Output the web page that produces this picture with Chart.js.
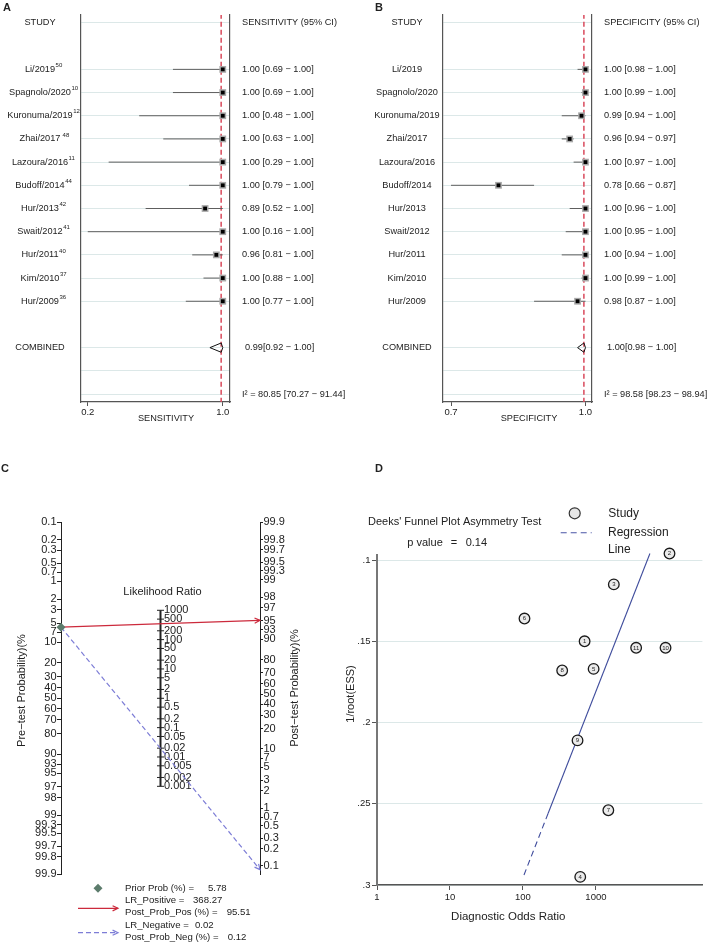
<!DOCTYPE html>
<html>
<head>
<meta charset="utf-8">
<script src="https://cdn.jsdelivr.net/npm/chart.js@4.4.1/dist/chart.umd.min.js"></script>
<style>
  body { margin: 0; background: #fff; }
  #wrap { position: relative; width: 709px; height: 944px; overflow: hidden; background: #fff; }
  canvas { position: absolute; }
</style>
</head>
<body>
<div id="wrap">
  <canvas id="chartA" width="354" height="470" style="left:0px;top:0px"></canvas>
  <canvas id="chartB" width="355" height="470" style="left:354px;top:0px"></canvas>
  <canvas id="chartC" width="340" height="484" style="left:0px;top:460px"></canvas>
  <canvas id="chartD" width="369" height="484" style="left:340px;top:460px"></canvas>
</div>
<script>
const FONT = '"Liberation Sans", Arial, Helvetica, sans-serif';
const INK = '#222';
const GRID = '#dce8e8';
const FRAME = '#555';
const RED = '#cc2a3c';
const BLUE = '#7d7dd6';
const FS = 9.2; // forest text size

// ---------- A / B : forest plots ----------
const studiesA = ['Li/2019', 'Spagnolo/2020', 'Kuronuma/2019', 'Zhai/2017', 'Lazoura/2016', 'Budoff/2014',
  'Hur/2013', 'Swait/2012', 'Hur/2011', 'Kim/2010', 'Hur/2009'];
const refsA = ['50', '10', '12', ' 48', '11', '44', '42', '41', '40', '37', '36'];
const sens = [1.00, 1.00, 1.00, 1.00, 1.00, 1.00, 0.89, 1.00, 0.96, 1.00, 1.00];
const sensLo = [0.69, 0.69, 0.48, 0.63, 0.29, 0.79, 0.52, 0.16, 0.81, 0.88, 0.77];
const sensHi = [1.00, 1.00, 1.00, 1.00, 1.00, 1.00, 1.00, 1.00, 1.00, 1.00, 1.00];
const sensPooled = [0.99, 0.92, 1.00];
const sensI2 = [80.85, 70.27, 91.44];
const sensTicks = [0.16, 1.0];

const spec = [1.00, 1.00, 0.99, 0.96, 1.00, 0.78, 1.00, 1.00, 1.00, 1.00, 0.98];
const specLo = [0.98, 0.99, 0.94, 0.94, 0.97, 0.66, 0.96, 0.95, 0.94, 0.99, 0.87];
const specHi = [1.00, 1.00, 1.00, 0.97, 1.00, 0.87, 1.00, 1.00, 1.00, 1.00, 1.00];
const specPooled = [0.996, 0.98, 1.00];
const specI2 = [98.58, 98.23, 98.94];
const specTicks = [0.66, 1.0];

// rows: header 0, studies 2..12, combined 14, I2 16
const studyRows = studiesA.map((s, i) => i + 2);
const POOLED_ROW = 14;
const I2_ROW = 16;
const gridRows = [0].concat(studyRows, [POOLED_ROW, 15, I2_ROW]);

// ---------- C : Fagan nomogram ----------
const preTicks = [0.1, 0.2, 0.3, 0.5, 0.7, 1, 2, 3, 5, 7, 10, 20, 30, 40, 50, 60, 70, 80, 90, 93, 95, 97, 98, 99, 99.3, 99.5, 99.7, 99.8, 99.9];
const postTicks = [99.9, 99.8, 99.7, 99.5, 99.3, 99, 98, 97, 95, 93, 90, 80, 70, 60, 50, 40, 30, 20, 10, 7, 5, 3, 2, 1, 0.7, 0.5, 0.3, 0.2, 0.1];
const lrTicks = [1000, 500, 200, 100, 50, 20, 10, 5, 2, 1, 0.5, 0.2, 0.1, 0.05, 0.02, 0.01, 0.005, 0.002, 0.001];
const faganNames = ['Prior Prob (%) =', 'LR_Positive =', 'Post_Prob_Pos (%) =', 'LR_Negative =', 'Post_Prob_Neg (%) ='];
const faganValues = [5.78, 368.27, 95.51, 0.02, 0.12];

// ---------- D : Deeks funnel plot ----------
const studyIds = [1, 2, 3, 4, 5, 6, 7, 8, 9, 10, 11];
const dor = [700, 10200, 1760, 610, 930, 105, 1480, 345, 560, 9000, 3560];
const invRootEss = [0.150, 0.096, 0.115, 0.295, 0.167, 0.136, 0.254, 0.168, 0.211, 0.154, 0.154];
const regDor = [5500, 221, 103];
const regEss = [0.096, 0.256, 0.294];
const dorTicks = [1, 10, 100, 1000];
const essTicks = [0.1, 0.15, 0.2, 0.25, 0.3];
const deeksP = 0.14;

const px = (s) => `${s}px ${FONT}`;
const f2 = (v) => v.toFixed(2);

function forest(canvasId, o) {
  // CI segments, broken by null points
  const ci = [];
  o.lo.forEach((lo, i) => {
    ci.push({ x: lo, y: studyRows[i] }, { x: o.hi[i], y: studyRows[i] }, { x: null, y: null });
  });
  const pts = o.est.map((v, i) => ({ x: v, y: studyRows[i] }));
  const [pe, pl, ph] = o.pooled;
  const dh = 0.2;
  const diamond = [
    { x: pl, y: POOLED_ROW }, { x: pe, y: POOLED_ROW - dh }, { x: ph, y: POOLED_ROW },
    { x: pe, y: POOLED_ROW + dh }, { x: pl, y: POOLED_ROW },
  ];
  const refLine = [{ x: pe, y: -0.4 }, { x: pe, y: 16.4 }];

  const forestText = {
    id: 'forestText',
    afterDraw(chart) {
      const ctx = chart.ctx;
      const y = chart.scales.y;
      ctx.save();
      ctx.fillStyle = INK;
      ctx.textBaseline = 'middle';

      ctx.font = `bold 11px ${FONT}`;
      ctx.textAlign = 'left';
      ctx.fillText(o.letter, o.letterX, 8);

      ctx.font = px(FS);
      const hy = y.getPixelForValue(0) - 1;
      ctx.textAlign = 'center';
      ctx.fillText('STUDY', o.labelX, hy);
      ctx.textAlign = 'left';
      ctx.fillText(o.header, o.textX, hy);

      o.names.forEach((name, i) => {
        const py = y.getPixelForValue(studyRows[i]);
        ctx.font = px(FS);
        ctx.textAlign = 'center';
        ctx.fillText(name, o.labelX, py);
        if (o.refs) {
          const w = ctx.measureText(name).width;
          ctx.font = px(6);
          ctx.textAlign = 'left';
          ctx.fillText(o.refs[i], o.labelX + w / 2 + 0.5, py - 4);
          ctx.font = px(FS);
        }
        ctx.textAlign = 'left';
        ctx.fillText(`${f2(o.est[i])} [${f2(o.lo[i])} − ${f2(o.hi[i])}]`, o.textX, py);
      });

      const cy = y.getPixelForValue(POOLED_ROW);
      ctx.textAlign = 'center';
      ctx.fillText('COMBINED', o.labelX, cy);
      ctx.textAlign = 'left';
      ctx.fillText(`${f2(pe)}[${f2(pl)} − ${f2(ph)}]`, o.textX + 3, cy);
      ctx.fillText(`I² = ${f2(o.i2[0])} [${f2(o.i2[1])} − ${f2(o.i2[2])}]`, o.textX, y.getPixelForValue(I2_ROW));

      ctx.textAlign = 'center';
      ctx.fillText(o.axisTitle, o.titleX, 418);
      ctx.restore();
    },
  };

  return new Chart(document.getElementById(canvasId), {
    type: 'scatter',
    data: {
      datasets: [
        { data: pts, pointStyle: 'rect', pointRadius: 2.7, backgroundColor: '#000', borderWidth: 0 },
        { data: pts, pointStyle: 'rect', pointRadius: 4.8, backgroundColor: '#a8a8a8', borderWidth: 0 },
        { data: diamond, showLine: true, borderColor: '#111', borderWidth: 1, pointRadius: 0 },
        { data: ci, showLine: true, spanGaps: false, borderColor: '#5e5e5e', borderWidth: 1, pointRadius: 0 },
        { data: refLine, showLine: true, borderColor: '#d94a5c', borderWidth: 1.5, borderDash: [5, 3], pointRadius: 0 },
      ],
    },
    options: {
      responsive: false,
      animation: false,
      events: [],
      devicePixelRatio: 1,
      layout: { padding: { left: o.left, right: o.width - o.right, top: 15, bottom: 0 } },
      plugins: { legend: { display: false }, tooltip: { enabled: false } },
      scales: {
        x: {
          type: 'linear', min: o.xmin, max: o.xmax,
          afterBuildTicks: (s) => { s.ticks = o.ticks.map((v) => ({ value: v })); },
          ticks: { autoSkip: false, maxRotation: 0, callback: (v) => v.toFixed(1), font: { family: FONT, size: 9.5 }, color: INK, padding: 1 },
          grid: { drawOnChartArea: false, tickLength: 4, tickColor: FRAME },
          border: { color: FRAME, width: 1.2 },
          afterFit: (s) => { s.height = 470 - 402; },
        },
        y: {
          type: 'linear', reverse: true, min: -0.345, max: 16.345,
          afterBuildTicks: (s) => { s.ticks = gridRows.map((v) => ({ value: v })); },
          ticks: { display: false },
          grid: { color: GRID, drawTicks: false, lineWidth: 1 },
          border: { color: FRAME, width: 1.2 },
          afterFit: (s) => { s.width = 0; },
        },
        yR: {
          type: 'linear', position: 'right', min: 0, max: 1,
          ticks: { display: false },
          grid: { display: false, drawTicks: false },
          border: { color: FRAME, width: 1.2 },
          afterFit: (s) => { s.width = 0; },
        },
      },
    },
    plugins: [forestText],
  });
}

forest('chartA', {
  width: 354, left: 81, right: 230, xmin: 0.118, xmax: 1.045, ticks: sensTicks,
  names: studiesA, refs: refsA, est: sens, lo: sensLo, hi: sensHi, pooled: sensPooled, i2: sensI2,
  letter: 'A', letterX: 3, labelX: 40, textX: 242, header: 'SENSITIVITY (95% CI)',
  axisTitle: 'SENSITIVITY', titleX: 166,
});

forest('chartB', {
  width: 355, left: 89, right: 238, xmin: 0.6397, xmax: 1.0165, ticks: specTicks,
  names: studiesA, refs: null, est: spec, lo: specLo, hi: specHi, pooled: specPooled, i2: specI2,
  letter: 'B', letterX: 21, labelX: 53, textX: 250, header: 'SPECIFICITY (95% CI)',
  axisTitle: 'SPECIFICITY', titleX: 175,
});

// ---------- C ----------
const logit = (p) => Math.log(p / (100 - p));
const L = logit(99.9);
const [priorProb, lrPos, postPos, lrNeg, postNeg] = faganValues;

function arrowHead(ctx, x0, y0, x1, y1, color) {
  const a = Math.atan2(y1 - y0, x1 - x0);
  const s = 6;
  ctx.save();
  ctx.strokeStyle = color;
  ctx.lineWidth = 1.2;
  ctx.setLineDash([]);
  ctx.beginPath();
  ctx.moveTo(x1 - s * Math.cos(a - 0.45), y1 - s * Math.sin(a - 0.45));
  ctx.lineTo(x1, y1);
  ctx.lineTo(x1 - s * Math.cos(a + 0.45), y1 - s * Math.sin(a + 0.45));
  ctx.stroke();
  ctx.restore();
}

const faganPlugin = {
  id: 'fagan',
  beforeDatasetsDraw(chart) {
    // middle likelihood ratio axis, on the library's yLR scale
    const { ctx, scales: { x, yLR } } = chart;
    const ax = x.getPixelForValue(1);
    const top = yLR.getPixelForValue(Math.log(lrTicks[0]));
    const bot = yLR.getPixelForValue(Math.log(lrTicks[lrTicks.length - 1]));
    ctx.save();
    ctx.strokeStyle = INK;
    ctx.lineWidth = 2;
    ctx.beginPath();
    ctx.moveTo(ax, top);
    ctx.lineTo(ax, bot);
    ctx.stroke();
    ctx.lineWidth = 1;
    ctx.fillStyle = INK;
    ctx.font = px(11);
    ctx.textAlign = 'left';
    ctx.textBaseline = 'middle';
    lrTicks.forEach((v) => {
      const py = yLR.getPixelForValue(Math.log(v));
      ctx.beginPath();
      ctx.moveTo(ax - 3.5, py);
      ctx.lineTo(ax + 3.5, py);
      ctx.stroke();
      ctx.fillText(String(v), ax + 3.5, py);
    });
    ctx.textAlign = 'center';
    ctx.fillText('Likelihood Ratio', 162.5, 131.7);
    ctx.restore();
  },
  afterDatasetsDraw(chart) {
    const ctx = chart.ctx;
    [[1, RED], [2, BLUE]].forEach(([i, col]) => {
      const d = chart.getDatasetMeta(i).data;
      arrowHead(ctx, d[0].x, d[0].y, d[1].x, d[1].y, col);
    });
  },
  afterDraw(chart) {
    const ctx = chart.ctx;
    ctx.save();
    ctx.fillStyle = INK;
    ctx.textBaseline = 'middle';
    ctx.font = `bold 11px ${FONT}`;
    ctx.textAlign = 'left';
    ctx.fillText('C', 1, 9);

    // rotated axis titles
    ctx.font = px(11);
    ctx.textAlign = 'center';
    [['Pre−test Probability)(%', 22, 230.5], ['Post−test Probability)(%', 295, 228]].forEach(([t, tx, ty]) => {
      ctx.save();
      ctx.translate(tx, ty);
      ctx.rotate(-Math.PI / 2);
      ctx.fillText(t, 0, 0);
      ctx.restore();
    });

    // legend
    ctx.font = px(9.6);
    ctx.textAlign = 'left';
    const rowsY = [428.3, 440.7, 452.7, 465.7, 477.7];
    const valX = [208, 193, 226.7, 195, 227.7];
    faganNames.forEach((n, i) => {
      ctx.fillText(n, 125, rowsY[i]);
      ctx.fillText(String(faganValues[i]), valX[i], rowsY[i]);
    });
    ctx.fillStyle = '#5c7c6c';
    ctx.beginPath();
    ctx.moveTo(98, 423.8); ctx.lineTo(102.5, 428.3); ctx.lineTo(98, 432.8); ctx.lineTo(93.5, 428.3);
    ctx.closePath();
    ctx.fill();
    ctx.lineWidth = 1.2;
    ctx.strokeStyle = RED;
    ctx.beginPath(); ctx.moveTo(78, 448.3); ctx.lineTo(118, 448.3); ctx.stroke();
    arrowHead(ctx, 78, 448.3, 118, 448.3, RED);
    ctx.strokeStyle = BLUE;
    ctx.setLineDash([5, 3]);
    ctx.beginPath(); ctx.moveTo(78, 472.7); ctx.lineTo(118, 472.7); ctx.stroke();
    ctx.setLineDash([]);
    arrowHead(ctx, 78, 472.7, 118, 472.7, BLUE);
    ctx.restore();
  },
};

new Chart(document.getElementById('chartC'), {
  type: 'scatter',
  data: {
    datasets: [
      { data: [{ x: 0, y: logit(priorProb) }], yAxisID: 'yPre', pointStyle: 'rectRot', pointRadius: 4.5,
        backgroundColor: '#5c7c6c', borderWidth: 0, clip: false },
      { data: [{ x: 0, y: logit(priorProb) }, { x: 2, y: -logit(postPos) }], yAxisID: 'yPre', showLine: true,
        borderColor: RED, borderWidth: 1.2, pointRadius: 0, clip: false },
      { data: [{ x: 0, y: logit(priorProb) }, { x: 2, y: -logit(postNeg) }], yAxisID: 'yPre', showLine: true,
        borderColor: BLUE, borderWidth: 1.2, borderDash: [5, 3], pointRadius: 0, clip: false },
    ],
  },
  options: {
    responsive: false,
    animation: false,
    events: [],
    devicePixelRatio: 1,
    layout: { padding: { left: 0, right: 0, top: 62.3, bottom: 484 - 414.3 } },
    plugins: { legend: { display: false }, tooltip: { enabled: false } },
    scales: {
      x: { type: 'linear', min: 0, max: 2, display: false },
      yPre: {
        type: 'linear', position: 'left', reverse: true, min: -L, max: L,
        afterBuildTicks: (s) => { s.ticks = preTicks.map((p) => ({ value: logit(p) })); },
        ticks: { autoSkip: false, callback: (v, i) => String(preTicks[i]), font: { family: FONT, size: 11 }, color: INK, padding: 0.5 },
        grid: { drawOnChartArea: false, tickLength: 4, tickColor: INK },
        border: { color: INK, width: 1 },
        afterFit: (s) => { s.width = 61; },
      },
      yPost: {
        type: 'linear', position: 'right', min: -7.25, max: L,
        afterBuildTicks: (s) => { s.ticks = postTicks.map((p) => ({ value: logit(p) })); },
        ticks: { autoSkip: false, callback: (v, i) => String(postTicks[i]), font: { family: FONT, size: 11 }, color: INK, padding: 0.5 },
        grid: { drawOnChartArea: false, tickLength: 3, tickColor: INK },
        border: { color: INK, width: 1 },
        afterFit: (s) => { s.width = 80; },
      },
      yLR: { type: 'linear', display: false, min: -2 * L, max: 2 * L },
    },
  },
  plugins: [faganPlugin],
});

// ---------- D ----------
const deeksPlugin = {
  id: 'deeks',
  afterDatasetsDraw(chart) {
    const ctx = chart.ctx;
    ctx.save();
    ctx.fillStyle = INK;
    ctx.font = px(6);
    ctx.textAlign = 'center';
    ctx.textBaseline = 'middle';
    chart.getDatasetMeta(0).data.forEach((pt, i) => ctx.fillText(String(studyIds[i]), pt.x, pt.y + 0.3));
    ctx.restore();
  },
  afterDraw(chart) {
    const ctx = chart.ctx;
    ctx.save();
    ctx.fillStyle = INK;
    ctx.textBaseline = 'middle';
    ctx.textAlign = 'left';
    ctx.font = `bold 11px ${FONT}`;
    ctx.fillText('D', 35, 9);

    ctx.font = px(11);
    ctx.fillText("Deeks' Funnel Plot Asymmetry Test", 28, 62.3);
    ctx.fillText('p value', 67.3, 82.7);
    ctx.fillText('=', 110.7, 82.7);
    ctx.fillText(deeksP.toFixed(2), 125.7, 82.7);

    // legend
    ctx.font = px(12);
    ctx.fillText('Study', 268.3, 53.3);
    ctx.fillText('Regression', 268, 72.7);
    ctx.fillText('Line', 268, 89.3);
    ctx.beginPath();
    ctx.arc(234.7, 53.3, 5.5, 0, Math.PI * 2);
    ctx.fillStyle = '#e6e6e6';
    ctx.fill();
    ctx.strokeStyle = '#333';
    ctx.lineWidth = 1.2;
    ctx.stroke();
    ctx.strokeStyle = '#4a56a6';
    ctx.lineWidth = 1.1;
    ctx.setLineDash([6, 4]);
    ctx.beginPath(); ctx.moveTo(220.7, 72.7); ctx.lineTo(251.7, 72.7); ctx.stroke();
    ctx.setLineDash([]);

    // axis titles
    ctx.fillStyle = INK;
    ctx.font = px(11.5);
    ctx.textAlign = 'center';
    ctx.fillText('Diagnostic Odds Ratio', 168.3, 456.7);
    ctx.font = px(11);
    ctx.save();
    ctx.translate(11, 234);
    ctx.rotate(-Math.PI / 2);
    ctx.fillText('1/root(ESS)', 0, 0);
    ctx.restore();
    ctx.restore();
  },
};

new Chart(document.getElementById('chartD'), {
  type: 'scatter',
  data: {
    datasets: [
      { data: dor.map((v, i) => ({ x: v, y: invRootEss[i] })), pointRadius: 5.3, backgroundColor: '#ebebeb',
        borderColor: '#1a1a1a', borderWidth: 1.3, clip: false },
      { data: regDor.map((v, i) => ({ x: v, y: regEss[i] })), showLine: true, borderColor: '#3f4c9c', borderWidth: 1.1,
        pointRadius: 0, clip: false,
        segment: { borderDash: (c) => (c.p0DataIndex >= 1 ? [6, 4] : undefined) } },
    ],
  },
  options: {
    responsive: false,
    animation: false,
    events: [],
    devicePixelRatio: 1,
    layout: { padding: { left: 0, right: 0, top: 95, bottom: 0 } },
    plugins: { legend: { display: false }, tooltip: { enabled: false } },
    scales: {
      x: {
        type: 'logarithmic', min: 1, max: 28800,
        afterBuildTicks: (s) => { s.ticks = dorTicks.map((v) => ({ value: v })); },
        ticks: { autoSkip: false, maxRotation: 0, callback: (v) => String(v), font: { family: FONT, size: 9.5 }, color: INK, padding: 1.5 },
        grid: { drawOnChartArea: false, tickLength: 5, tickColor: FRAME },
        border: { color: FRAME, width: 1.5 },
        afterFit: (s) => { s.height = 484 - 425; },
      },
      y: {
        type: 'linear', reverse: true, min: 0.0969, max: 0.3,
        afterBuildTicks: (s) => { s.ticks = essTicks.map((v) => ({ value: v })); },
        ticks: { autoSkip: false, callback: (v) => String(v).replace(/^0/, ''), font: { family: FONT, size: 9.5 }, color: INK, padding: 1.5 },
        grid: { color: GRID, tickColor: FRAME, tickLength: 5 },
        border: { color: '#777', width: 2 },
        afterFit: (s) => { s.width = 37; },
      },
    },
  },
  plugins: [deeksPlugin],
});
</script>
</body>
</html>
